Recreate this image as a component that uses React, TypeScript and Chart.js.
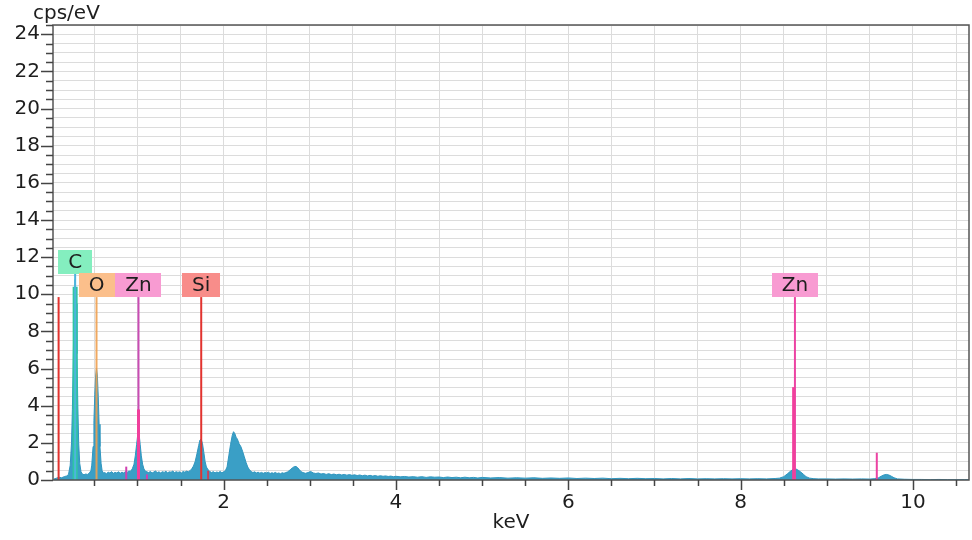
import React, { useEffect, useRef } from 'react';
import { Chart, registerables } from 'chart.js';

Chart.register(...registerables);

// ---- data ----
// spectrum: [keV, cps/eV]
const spectrum: [number, number][] = [
  [0.03, 0.05], [0.06, 0.1], [0.09, 0.15], [0.12, 0.12], [0.15, 0.18], [0.18, 0.22], [0.2, 0.3],
  [0.22, 0.8], [0.235, 2.0], [0.245, 3.8], [0.255, 6.5], [0.265, 9.3], [0.277, 10.8],
  [0.288, 9.5], [0.298, 6.8], [0.308, 4.0], [0.318, 2.0], [0.33, 0.9], [0.345, 0.45],
  [0.36, 0.32], [0.38, 0.28], [0.4, 0.32], [0.42, 0.3], [0.44, 0.36], [0.46, 0.5],
  [0.47, 0.8], [0.485, 1.8], [0.495, 3.2], [0.505, 4.6], [0.515, 5.6], [0.525, 6.0], [0.535, 5.6],
  [0.545, 4.5], [0.555, 3.0], [0.565, 1.8], [0.578, 0.9], [0.59, 0.5], [0.605, 0.38],
  [0.62, 0.4], [0.64, 0.34], [0.66, 0.42], [0.68, 0.38], [0.7, 0.45], [0.72, 0.36], [0.74, 0.41],
  [0.76, 0.38], [0.78, 0.44], [0.8, 0.36], [0.82, 0.42], [0.84, 0.38], [0.86, 0.45], [0.88, 0.41],
  [0.9, 0.48], [0.92, 0.47],
  [0.94, 0.6], [0.96, 0.85], [0.975, 1.3], [0.99, 1.9], [1.0, 2.3], [1.012, 2.5], [1.022, 2.35],
  [1.032, 1.9], [1.045, 1.3], [1.06, 0.85], [1.075, 0.6], [1.09, 0.48], [1.11, 0.44],
  [1.13, 0.4], [1.15, 0.46], [1.17, 0.38], [1.19, 0.43], [1.21, 0.48], [1.23, 0.4], [1.25, 0.44],
  [1.27, 0.38], [1.29, 0.45], [1.31, 0.41], [1.33, 0.47], [1.35, 0.39], [1.37, 0.44], [1.39, 0.42],
  [1.41, 0.48], [1.43, 0.4], [1.45, 0.45], [1.47, 0.41], [1.49, 0.44], [1.51, 0.38], [1.53, 0.46],
  [1.55, 0.42], [1.57, 0.48], [1.59, 0.44], [1.61, 0.5],
  [1.63, 0.6], [1.65, 0.75], [1.67, 1.0], [1.69, 1.4], [1.71, 1.85], [1.725, 2.15], [1.74, 2.2],
  [1.755, 1.95], [1.77, 1.5], [1.785, 1.0], [1.8, 0.7], [1.82, 0.55], [1.84, 0.46],
  [1.86, 0.4], [1.88, 0.45], [1.9, 0.38], [1.92, 0.43], [1.94, 0.4], [1.96, 0.46], [1.98, 0.39],
  [2.0, 0.44], [2.02, 0.5],
  [2.04, 0.7], [2.06, 1.3], [2.08, 1.9], [2.1, 2.4], [2.115, 2.6], [2.13, 2.5], [2.145, 2.3],
  [2.16, 2.2], [2.18, 1.95], [2.2, 1.8], [2.22, 1.55], [2.24, 1.25], [2.26, 0.95], [2.28, 0.7],
  [2.3, 0.55], [2.32, 0.46],
  [2.34, 0.4], [2.36, 0.44], [2.38, 0.38], [2.4, 0.42], [2.42, 0.37], [2.44, 0.41], [2.46, 0.36],
  [2.48, 0.4], [2.5, 0.38], [2.52, 0.42], [2.54, 0.35], [2.56, 0.39], [2.58, 0.36], [2.6, 0.41],
  [2.62, 0.35], [2.64, 0.38], [2.66, 0.34], [2.68, 0.39], [2.7, 0.36], [2.72, 0.4], [2.74, 0.43],
  [2.76, 0.5],
  [2.78, 0.58], [2.8, 0.66], [2.82, 0.72], [2.84, 0.73], [2.86, 0.66], [2.88, 0.55], [2.9, 0.45],
  [2.92, 0.4],
  [2.95, 0.36], [2.98, 0.4], [3.01, 0.46], [3.04, 0.38], [3.07, 0.35], [3.1, 0.38], [3.13, 0.32],
  [3.16, 0.35], [3.19, 0.3], [3.22, 0.34], [3.25, 0.29], [3.28, 0.32], [3.31, 0.28], [3.34, 0.31],
  [3.37, 0.27], [3.4, 0.3], [3.43, 0.26], [3.46, 0.29], [3.49, 0.25], [3.52, 0.28], [3.55, 0.24],
  [3.58, 0.27], [3.61, 0.23], [3.64, 0.26], [3.67, 0.22], [3.7, 0.25], [3.73, 0.21], [3.76, 0.24],
  [3.79, 0.2], [3.82, 0.23], [3.85, 0.2], [3.88, 0.22], [3.91, 0.19], [3.94, 0.21], [3.97, 0.18],
  [4.0, 0.2],
  [4.05, 0.17], [4.1, 0.19], [4.15, 0.16], [4.2, 0.18], [4.25, 0.15], [4.3, 0.18], [4.35, 0.14],
  [4.4, 0.17], [4.45, 0.15], [4.5, 0.16], [4.55, 0.13], [4.6, 0.16], [4.65, 0.13], [4.7, 0.15],
  [4.75, 0.12], [4.8, 0.15], [4.85, 0.12], [4.9, 0.14], [4.95, 0.11], [5.0, 0.14], [5.1, 0.11],
  [5.2, 0.13], [5.3, 0.1], [5.4, 0.12], [5.5, 0.1], [5.6, 0.12], [5.7, 0.09], [5.8, 0.11],
  [5.9, 0.09], [6.0, 0.11], [6.1, 0.08], [6.2, 0.1], [6.3, 0.08], [6.4, 0.1], [6.5, 0.07],
  [6.6, 0.09], [6.7, 0.07], [6.8, 0.09], [6.9, 0.07], [7.0, 0.08], [7.1, 0.06], [7.2, 0.08],
  [7.3, 0.06], [7.4, 0.08], [7.5, 0.06], [7.6, 0.07], [7.7, 0.06], [7.8, 0.07], [7.9, 0.06],
  [8.0, 0.07], [8.1, 0.06], [8.2, 0.07], [8.3, 0.06], [8.4, 0.08],
  [8.45, 0.1], [8.5, 0.18], [8.54, 0.32], [8.58, 0.48], [8.61, 0.58], [8.64, 0.6], [8.67, 0.52],
  [8.7, 0.42], [8.73, 0.3], [8.76, 0.18], [8.8, 0.1], [8.85, 0.07],
  [8.9, 0.06], [9.0, 0.06], [9.1, 0.05], [9.2, 0.06], [9.3, 0.05], [9.4, 0.06], [9.5, 0.05], [9.55, 0.07],
  [9.6, 0.12], [9.63, 0.2], [9.66, 0.27], [9.69, 0.3], [9.72, 0.27], [9.75, 0.2], [9.78, 0.12], [9.82, 0.06],
  [9.9, 0.04], [10.0, 0.03], [10.1, 0.03], [10.2, 0.02], [10.3, 0.03], [10.4, 0.02], [10.5, 0.02],
  [10.6, 0.02], [10.65, 0.02],
];

// element marker lines (keV, top in cps/eV)
const markerKeV = [0.085, 0.277, 0.525, 1.012, 1.74, 8.63];
const markerTop = [9.85, 11.1, 9.85, 9.85, 9.85, 9.85];

// line-intensity bars (keV, height in cps/eV)
const barKeV = [0.87, 1.012, 1.11, 1.82, 8.615, 9.58];
const barCps = [0.72, 3.8, 0.3, 0.5, 5.0, 1.47];

// peak overlay for C (keV, height)
const overlayKeV = [0.277];
const overlayTop = [10.4];

// element labels
const labelNames = ['C', 'O', 'Zn', 'Si', 'Zn'];
const labelKeV = [0.277, 0.525, 1.012, 1.74, 8.63];
const labelBottom = [11.1, 9.85, 9.85, 9.85, 9.85];

// axes
const xMin = 0.02;
const xMax = 10.65;
const yMin = 0;
const yMax = 24.5;
const xStep = 0.5;
const yStep = 0.5;
const xLabelEvery = 2;
const yLabelEvery = 2;
const yTitle = 'cps/eV';
const xTitle = 'keV';

// ---- styles ----
const FONT = '"DejaVu Sans", Verdana, sans-serif';
const TEXT = '#1e1e1e';
const spectrumFill = '#3a9fc6';
const spectrumLine = '#3096bf';
const markerColors = ['#e2332f', '#4db4dc', 'rgba(238,160,80,0.9)', '#c94cb4', '#e2332f', '#ec43a3'];
const markerWidths = [2, 2, 2, 2, 2, 2];
const barColors = ['#d040b0', '#f0409c', '#d040b0', '#c9405a', '#f0409c', '#ec43a3'];
const barWidths = [2, 3, 2, 2, 3, 2];
const overlayColors = ['#2fc6a3'];
const labelColors = ['#84eebf', '#fbbf8b', '#f89bd2', '#f88d8a', '#f89bd2'];

const overlayPlugin = {
  id: 'eds',
  beforeDraw(chart: any) {
    const { ctx } = chart;
    ctx.save();
    ctx.fillStyle = '#ffffff';
    ctx.fillRect(0, 0, chart.width, chart.height);
    ctx.restore();
  },
  afterDatasetsDraw(chart: any) {
    const { ctx, scales } = chart;
    const xs = scales.x;
    const ys = scales.y;
    ctx.save();
    ctx.font = `20px ${FONT}`;
    ctx.textAlign = 'center';
    ctx.textBaseline = 'middle';
    labelNames.forEach((name, i) => {
      const cx = xs.getPixelForValue(labelKeV[i]);
      const bottom = ys.getPixelForValue(labelBottom[i]);
      const w = ctx.measureText(name).width + 20;
      const h = 24;
      ctx.fillStyle = labelColors[i];
      ctx.fillRect(Math.round(cx - w / 2), Math.round(bottom - h), Math.round(w), h);
      ctx.fillStyle = TEXT;
      ctx.fillText(name, cx, bottom - h / 2 + 1);
    });
    ctx.restore();
  },
  afterDraw(chart: any) {
    const { ctx, chartArea, scales } = chart;
    const xs = scales.x;
    const ys = scales.y;
    ctx.save();
    ctx.strokeStyle = '#555';
    ctx.lineWidth = 1.5;
    ctx.strokeRect(chartArea.left, chartArea.top, chartArea.right - chartArea.left, chartArea.bottom - chartArea.top);
    ctx.strokeStyle = '#444';
    ctx.lineWidth = 1.5;
    ctx.beginPath();
    xs.ticks.forEach((t: any) => {
      const px = Math.round(xs.getPixelForValue(t.value)) + 0.5;
      const major = Math.abs(t.value % xLabelEvery) < 1e-6;
      ctx.moveTo(px, chartArea.bottom);
      ctx.lineTo(px, chartArea.bottom + (major ? 10 : 6));
    });
    ys.ticks.forEach((t: any) => {
      const py = Math.round(ys.getPixelForValue(t.value)) + 0.5;
      const major = Math.abs(t.value % yLabelEvery) < 1e-6;
      ctx.moveTo(chartArea.left, py);
      ctx.lineTo(chartArea.left - (major ? 12 : 7), py);
    });
    ctx.stroke();
    ctx.fillStyle = TEXT;
    ctx.font = `20px ${FONT}`;
    ctx.textBaseline = 'middle';
    ctx.textAlign = 'left';
    ctx.fillText(yTitle, 33, 14);
    ctx.textAlign = 'center';
    ctx.fillText(xTitle, (chartArea.left + chartArea.right) / 2, 523);
    ctx.restore();
  },
};

export default function App() {
  const ref = useRef<HTMLCanvasElement | null>(null);

  useEffect(() => {
    if (!ref.current) return;
    const datasets: any[] = [];
    datasets.push({
      type: 'line',
      data: spectrum.map(([x, y]) => ({ x, y })),
      borderColor: spectrumLine,
      backgroundColor: spectrumFill,
      borderWidth: 1,
      pointRadius: 0,
      fill: 'origin',
      tension: 0,
      order: 100,
    });
    overlayKeV.forEach((k, i) => {
      datasets.push({
        type: 'line',
        data: [{ x: k, y: 0 }, { x: k, y: overlayTop[i] }],
        borderColor: overlayColors[i],
        borderWidth: 5,
        pointRadius: 0,
        fill: false,
        order: 50,
      });
    });
    markerKeV.forEach((k, i) => {
      datasets.push({
        type: 'line',
        data: [{ x: k, y: 0 }, { x: k, y: markerTop[i] }],
        borderColor: markerColors[i],
        borderWidth: markerWidths[i],
        pointRadius: 0,
        fill: false,
        order: 20,
      });
    });
    barKeV.forEach((k, i) => {
      datasets.push({
        type: 'line',
        data: [{ x: k, y: 0 }, { x: k, y: barCps[i] }],
        borderColor: barColors[i],
        borderWidth: barWidths[i],
        pointRadius: 0,
        fill: false,
        order: 10,
      });
    });

    const chart = new Chart(ref.current, {
      type: 'line',
      data: { datasets },
      options: {
        animation: false,
        responsive: false,
        devicePixelRatio: 1,
        layout: { padding: { top: 25, right: 3, left: 0, bottom: 0 } },
        plugins: { legend: { display: false }, tooltip: { enabled: false } },
        scales: {
          x: {
            type: 'linear',
            min: xMin,
            max: xMax,
            border: { display: false },
            grid: { color: '#dcdcdc', lineWidth: 1, drawTicks: false },
            ticks: {
              stepSize: xStep,
              includeBounds: false,
              autoSkip: false,
              maxRotation: 0,
              padding: 11,
              color: TEXT,
              font: { family: FONT, size: 20 },
              callback: (v: any) => (Math.abs(Number(v) % xLabelEvery) < 1e-6 ? String(v) : ''),
            },
            afterFit: (s: any) => {
              s.height = 60;
            },
          },
          y: {
            type: 'linear',
            min: yMin,
            max: yMax,
            border: { display: false },
            grid: { color: '#dcdcdc', lineWidth: 1, drawTicks: false },
            ticks: {
              stepSize: yStep,
              includeBounds: false,
              autoSkip: false,
              padding: 13,
              color: TEXT,
              font: { family: FONT, size: 20 },
              callback: (v: any) => (Math.abs(Number(v) % yLabelEvery) < 1e-6 ? String(v) : ''),
            },
            afterFit: (s: any) => {
              s.width = 53;
            },
          },
        },
      } as any,
      plugins: [overlayPlugin],
    });
    return () => chart.destroy();
  }, []);

  return (
    <div style={{ position: 'fixed', left: 0, top: 0, width: 972, height: 540, background: '#fff' }}>
      <canvas ref={ref} width={972} height={540} style={{ display: 'block', width: 972, height: 540 }} />
    </div>
  );
}
